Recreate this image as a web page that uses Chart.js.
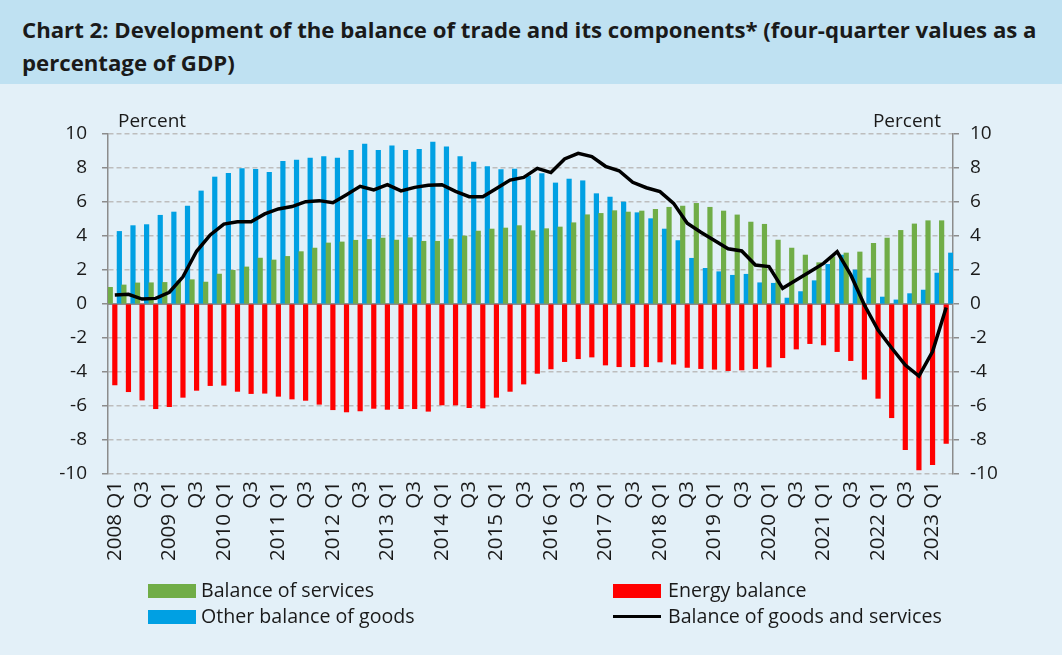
<!DOCTYPE html>
<html>
<head>
<meta charset="utf-8">
<script src="https://cdn.jsdelivr.net/npm/chart.js@4.4.0/dist/chart.umd.min.js"></script>
<style>
  body { margin: 0; background: #e3f0f8; font-family: "Open Sans", Lato, sans-serif; }
  #wrap { position: relative; width: 1062px; height: 655px; background: #e3f0f8; overflow: hidden; }
  #title { position: absolute; left: 0; top: 0; width: 1062px; height: 84px; background: #bfe1f2;
           box-sizing: border-box; padding: 13px 0 0 22px; font-weight: bold; font-size: 22.2px; line-height: 33px; color: #1a1a1a; white-space: nowrap; }
  #chart { position: absolute; left: 0; top: 83px; }
  .unit { position: absolute; top: 107px; font-size: 19px; color: #1a1a1a; }
  .leg { position: absolute; font-size: 19.6px; color: #1a1a1a; white-space: nowrap; }
  .sw { position: absolute; width: 48px; height: 14px; }
</style>
</head>
<body>
<div id="wrap">
  <div id="title">Chart 2: Development of the balance of trade and its components* (four-quarter values as a<br>percentage of GDP)</div>
  <canvas id="chart" width="1062" height="500"></canvas>
  <div class="unit" style="left:118px">Percent</div>
  <div class="unit" style="right:121px">Percent</div>

  <div class="sw" style="left:148px; top:584px; background:#70ad47"></div>
  <div class="leg" style="left:201px; top:576px">Balance of services</div>
  <div class="sw" style="left:613px; top:584px; background:#ff0000"></div>
  <div class="leg" style="left:668px; top:576px">Energy balance</div>
  <div class="sw" style="left:148px; top:610px; background:#00a0e3"></div>
  <div class="leg" style="left:201px; top:602px">Other balance of goods</div>
  <div class="sw" style="left:613px; top:615px; height:3px; background:#000"></div>
  <div class="leg" style="left:668px; top:602px">Balance of goods and services</div>
</div>
<script>
"use strict"

// quarters 2008 Q1 .. 2023 Q2
const firstYear = 2008;
const quarters = [];
for (let i = 0; i < 62; i++) {
    quarters.push((firstYear + Math.floor(i / 4)) + ' Q' + (i % 4 + 1));
}

// four-quarter values, % of GDP
const services = [
    0.98, 1.12, 1.24, 1.25, 1.27, 1.35, 1.43, 1.29, 1.76, 1.98,
    2.18, 2.70, 2.59, 2.80, 3.08, 3.29, 3.59, 3.65, 3.75, 3.80,
    3.88, 3.76, 3.90, 3.69, 3.69, 3.82, 4.00, 4.29, 4.41, 4.47,
    4.61, 4.31, 4.43, 4.53, 4.78, 5.25, 5.33, 5.49, 5.41, 5.47,
    5.57, 5.69, 5.76, 5.92, 5.69, 5.47, 5.24, 4.82, 4.69, 3.76,
    3.29, 2.88, 2.43, 2.78, 3.00, 3.06, 3.57, 3.88, 4.33, 4.71,
    4.90, 4.90
];

const otherGoods = [
    4.27, 4.61, 4.67, 5.22, 5.41, 5.76, 6.65, 7.47, 7.69, 7.96,
    7.92, 7.75, 8.39, 8.47, 8.59, 8.67, 8.59, 9.04, 9.41, 9.04,
    9.31, 9.04, 9.10, 9.53, 9.24, 8.67, 8.35, 8.08, 7.90, 7.94,
    7.52, 7.67, 7.12, 7.35, 7.25, 6.49, 6.29, 6.00, 5.37, 5.02,
    4.41, 3.73, 2.69, 2.10, 1.90, 1.69, 1.75, 1.25, 1.22, 0.35,
    0.73, 1.37, 2.33, 2.88, 2.00, 1.53, 0.41, 0.24, 0.61, 0.82,
    1.82, 3.00
];

const energy = [
    -4.76, -5.16, -5.65, -6.16, -6.04, -5.49, -5.08, -4.80, -4.78, -5.14,
    -5.27, -5.25, -5.43, -5.59, -5.67, -5.90, -6.22, -6.35, -6.29, -6.14,
    -6.20, -6.16, -6.16, -6.31, -5.94, -5.94, -6.10, -6.12, -5.49, -5.14,
    -4.71, -4.08, -3.82, -3.39, -3.22, -3.12, -3.59, -3.69, -3.69, -3.69,
    -3.41, -3.54, -3.73, -3.80, -3.84, -3.92, -3.88, -3.80, -3.71, -3.16,
    -2.65, -2.33, -2.41, -2.80, -3.33, -4.43, -5.55, -6.69, -8.57, -9.76,
    -9.45, -8.20
];

const goodsAndServices = [
    0.53, 0.57, 0.29, 0.33, 0.69, 1.60, 3.10, 4.06, 4.70, 4.84,
    4.84, 5.30, 5.59, 5.73, 6.02, 6.08, 5.96, 6.43, 6.92, 6.71,
    7.02, 6.65, 6.86, 6.98, 7.02, 6.63, 6.31, 6.31, 6.80, 7.29,
    7.45, 7.98, 7.73, 8.53, 8.86, 8.67, 8.10, 7.84, 7.16, 6.84,
    6.61, 5.92, 4.75, 4.22, 3.73, 3.25, 3.12, 2.29, 2.20, 0.92,
    1.41, 1.90, 2.39, 3.08, 1.71, -0.06, -1.53, -2.59, -3.59, -4.24,
    -2.80, -0.20
];

const yTicks = { min: -10, max: 10, step: 2 };

const FONT = { family: '"Open Sans", Lato, sans-serif', size: 19 };
const XFONT = { family: '"Open Sans", Lato, sans-serif', size: 20.5 };
const TEXT = '#1a1a1a';
const GRID = '#bdbdbd';
const AXIS = '#8c8c8c';

// x labels: only Q1 (with year) and Q3
const xLabel = (i) => {
    const q = quarters[i];
    if (i % 4 === 0) return q;
    if (i % 4 === 2) return 'Q3';
    return '';
};

// solid line at zero
const zeroLine = {
    id: 'zeroLine',
    beforeDatasetsDraw(chart) {
        const { ctx, chartArea, scales } = chart;
        const y = scales.y.getPixelForValue(0);
        ctx.save();
        ctx.strokeStyle = AXIS;
        ctx.lineWidth = 2;
        ctx.beginPath();
        ctx.moveTo(chartArea.left, y);
        ctx.lineTo(chartArea.right, y);
        ctx.stroke();
        ctx.restore();
    }
};

const yAxis = (position, width, pad) => ({
    type: 'linear',
    position,
    min: yTicks.min,
    max: yTicks.max,
    afterFit: (scale) => { scale.width = width; },
    ticks: { stepSize: yTicks.step, color: TEXT, font: FONT, padding: pad },
    grid: {
        drawOnChartArea: position === 'left',
        color: (c) => c.tick && c.tick.value === 0 ? 'rgba(0,0,0,0)' : GRID,
        lineWidth: 1.5,
        tickColor: AXIS,
        tickLength: 6,
    },
    border: { color: AXIS, width: 1.5, dash: [5, 3] },
});

new Chart(document.getElementById('chart'), {
    type: 'bar',
    data: {
        labels: quarters,
        datasets: [
            { label: 'Balance of services', data: services, backgroundColor: '#70ad47', order: 1 },
            { label: 'Energy balance', data: energy, backgroundColor: '#ff0000', order: 1 },
            { label: 'Other balance of goods', data: otherGoods, backgroundColor: '#00a0e3', order: 1 },
            {
                type: 'line', label: 'Balance of goods and services', data: goodsAndServices,
                borderColor: '#000', borderWidth: 3.5, pointRadius: 0, tension: 0, order: 0,
            },
        ]
    },
    options: {
        responsive: false,
        animation: false,
        categoryPercentage: 1.0,
        barPercentage: 1.0,
        layout: { padding: { left: 0, right: 0, top: 51, bottom: 9 } },
        plugins: { legend: { display: false }, tooltip: { enabled: false } },
        scales: {
            x: {
                afterFit: (scale) => { scale.height = 100; },
                grid: { display: false, drawTicks: false },
                border: { display: false },
                ticks: {
                    autoSkip: false, minRotation: 90, maxRotation: 90,
                    color: TEXT, font: XFONT, padding: 7,
                    callback: (v, i) => xLabel(i),
                },
            },
            y: yAxis('left', 108, 15),
            y2: yAxis('right', 109, 11),
        }
    },
    plugins: [zeroLine]
});
</script>
</body>
</html>
